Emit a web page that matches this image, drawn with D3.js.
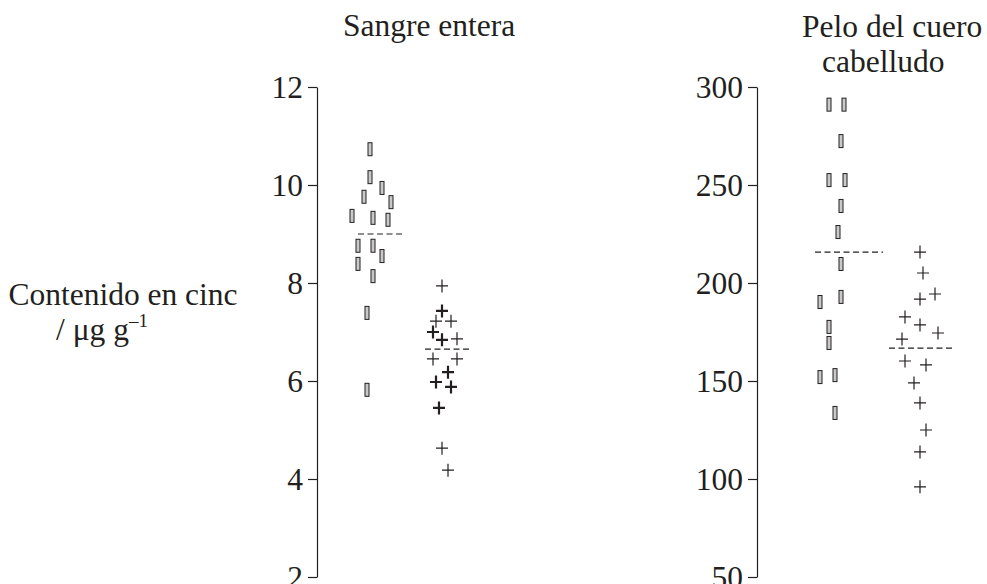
<!DOCTYPE html>
<html><head><meta charset="utf-8">
<script src="https://cdn.jsdelivr.net/npm/d3@7"></script>
<style>body{margin:0;background:#fff}svg{display:block}text{font-family:"Liberation Serif","Times New Roman",serif;fill:#231f20}</style>
</head><body>
<svg id="c" width="987" height="584"></svg>
<script>
// ---- data ----
const panelTitles = [["Sangre entera"], ["Pelo del cuero", "cabelludo"]];
const leftTicks = [2, 4, 6, 8, 10, 12];
const rightTicks = [50, 100, 150, 200, 250, 300];
const yLabelLine1 = "Contenido en cinc";
// whole blood, group A (rectangle markers)
const bloodA = [10.73, 10.16, 9.94, 9.76, 9.65, 9.37, 9.33, 9.29, 8.76, 8.76, 8.55, 8.39, 8.14, 7.39, 5.82];
const bloodAJitter = [0, 0, 2, -1, 3.5, -3, 0.5, 3, -2, 0.5, 2, -2, 0.5, -0.5, -0.5];
// whole blood, group B (crosses)
const bloodB = [7.94, 7.43, 7.22, 7.22, 7.0, 6.84, 6.86, 6.45, 6.45, 6.18, 5.98, 5.88, 5.45, 4.63, 4.18];
const bloodBJitter = [0, 0, -1, 1.5, -1.5, 0, 2.5, -1.5, 2.5, 1, -1, 1.5, -0.5, 0, 1];
const bloodBCount = [1, 2, 1, 1, 2, 2, 1, 1, 1, 2, 2, 2, 2, 1, 1];
// scalp hair, group A
const hairA = [291, 291, 272.4, 252.5, 252.5, 239.3, 226, 209.7, 192.9, 190.3, 177.6, 169.4, 152, 153, 133.7];
const hairAJitter = [-1, 1.5, 1, -1, 1.67, 1, 0.5, 1, 1, -2.5, -1, -1, -2.5, 0, 0];
// scalp hair, group B
const hairB = [215.8, 205.1, 194.4, 191.8, 182.7, 178.6, 174.5, 171.4, 160.2, 158.2, 149, 138.8, 125, 113.8, 96];
const hairBJitter = [0, 0.5, 2.5, 0, -2.5, 0, 3, -3, -2.5, 1, -1, 0, 1, 0, 0];
// group means (dashed lines)
const bloodMeans = [9.0, 6.65];
const hairMeans = [215.8, 166.8];

// ---- layout ----
const svg = d3.select("#c");
const yTop = 87, yBottom = 577, unit = 6;
const fs = 31.5;
const panels = [
  {axisX: 317, ticks: leftTicks, domain: [2, 12], cols: [370, 442],
   A: bloodA, AJ: bloodAJitter, B: bloodB, BJ: bloodBJitter, BC: bloodBCount, means: bloodMeans,
   meanSpan: [[-2, 5.83], [-2.83, 4.83]], titleX: [343], titleY: [36]},
  {axisX: 757, ticks: rightTicks, domain: [50, 300], cols: [835, 920],
   A: hairA, AJ: hairAJitter, B: hairB, BJ: hairBJitter, BC: hairB.map(() => 1), means: hairMeans,
   meanSpan: [[-3.33, 8], [-5.17, 5.83]], titleX: [802, 822], titleY: [37, 72]}
];

panels.forEach((p, pi) => {
  const y = d3.scaleLinear().domain(p.domain).range([yBottom, yTop]);
  const x = d3.scaleLinear().domain([0, 1]).range(p.cols);
  const ax = svg.append("g").attr("transform", `translate(${p.axisX},0)`)
    .call(d3.axisLeft(y).tickValues(p.ticks).tickSize(9).tickSizeOuter(0).tickPadding(5));
  ax.selectAll("path,line").attr("stroke", "#231f20").attr("stroke-width", 1.2);
  ax.selectAll("text").attr("font-size", fs).attr("font-family", "Liberation Serif").attr("fill", "#231f20").attr("dy", "0.34em");

  // titles
  panelTitles[pi].forEach((t, i) => svg.append("text").attr("x", p.titleX[i]).attr("y", p.titleY[i])
    .attr("font-size", fs).text(t));

  // group A: rectangle markers
  svg.append("g").selectAll("rect").data(p.A).join("rect")
    .attr("x", (d, i) => x(0) + p.AJ[i] * unit - 2)
    .attr("y", d => y(d) - 6.5)
    .attr("width", 4).attr("height", 13)
    .attr("fill", "#c9c9c9").attr("stroke", "#231f20").attr("stroke-width", 1);

  // group B: crosses
  const g = svg.append("g");
  p.B.forEach((d, i) => {
    const cx = x(1) + p.BJ[i] * unit, cy = y(d);
    const sw = p.BC[i] > 1 ? 2.2 : 1.2;
    g.append("path").attr("d", `M${cx - 6},${cy}H${cx + 6}M${cx},${cy - 6.5}V${cy + 6.5}`)
      .attr("stroke", "#231f20").attr("stroke-width", sw).attr("fill", "none");
  });

  // mean lines
  p.means.forEach((m, i) => {
    svg.append("line")
      .attr("x1", x(i) + p.meanSpan[i][0] * unit).attr("x2", x(i) + p.meanSpan[i][1] * unit)
      .attr("y1", y(m)).attr("y2", y(m))
      .attr("stroke", "#231f20").attr("stroke-width", 1.2).attr("stroke-dasharray", "6,3.5");
  });
});

// y label
svg.append("text").attr("x", 123).attr("y", 305).attr("text-anchor", "middle").attr("font-size", fs).text(yLabelLine1);
const l2 = svg.append("text").attr("x", 56).attr("y", 340).attr("font-size", fs);
l2.append("tspan").text("/ μg g");
l2.append("tspan").attr("font-size", 19).attr("dy", -13).text("–1");
</script>
</body></html>
